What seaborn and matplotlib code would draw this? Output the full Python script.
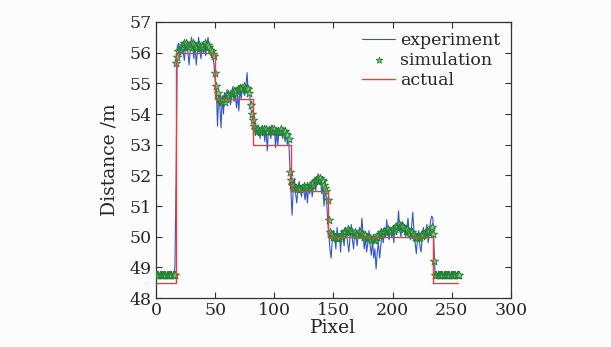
import numpy as np
import seaborn as sns
import matplotlib
matplotlib.use('Agg')
import matplotlib.pyplot as plt

# Pixel index 0..256, values listed segment by segment
exp_a = [48.72, 48.74, 48.71, 48.73, 48.75, 48.72, 48.74, 48.73, 48.71, 48.74, 48.72, 48.75,
         48.73, 48.72, 48.74, 48.73, 49.0]
exp_b = [52.0, 56.2, 56.3, 55.9, 56.1, 56.3, 56.0, 55.75, 56.2, 56.4, 56.0, 55.6, 56.1, 56.5,
         56.2, 55.8, 56.3, 55.6, 56.0, 56.5, 56.1, 55.8, 56.3, 56.0, 56.2, 55.9, 56.3, 56.5,
         56.1, 56.0, 56.2, 55.9, 55.6, 55.1]
exp_c = [54.8, 53.6, 54.7, 54.2, 53.55, 54.6, 54.0, 54.7, 54.4, 54.8, 54.5, 54.7, 54.3, 54.6,
         54.9, 54.4, 54.7, 54.2, 54.6, 54.1, 54.8, 54.5, 54.9, 54.7, 54.6, 54.9, 55.35, 54.6,
         54.8, 54.2, 54.0, 53.7]
exp_d = [53.7, 53.3, 53.6, 53.4, 53.5, 53.2, 53.6, 53.4, 53.5, 53.1, 53.6, 52.8, 53.4, 53.6,
         53.2, 53.5, 53.3, 53.6, 52.9, 53.4, 53.0, 53.5, 53.3, 53.6, 53.2, 53.5, 53.1, 53.4,
         53.0, 53.3, 52.4]
exp_e = [51.5, 50.7, 51.6, 51.9, 51.4, 51.1, 51.6, 51.8, 51.5, 51.3, 51.7, 51.5, 51.2, 51.6,
         51.1, 51.7, 51.4, 51.8, 51.3, 51.6, 51.9, 51.5, 51.8, 52.05, 51.7, 51.9, 51.4, 51.6,
         51.0, 51.5, 51.3, 50.6]
exp_f = [50.1, 49.6, 49.3, 49.9,
         50.2, 50.0, 49.6, 50.3, 49.9, 50.1, 49.5, 50.2, 50.0, 49.7,
         50.3, 50.1, 49.8, 49.5, 50.0, 50.4, 49.9, 49.6, 50.2, 50.0,
         49.7, 50.1, 50.3, 50.0, 50.6, 50.1, 49.6, 50.0, 49.5, 49.8,
         50.2, 49.7, 49.4, 49.9, 49.3, 49.6, 48.95, 49.5, 49.8, 49.3,
         49.7, 50.1, 49.8, 50.2, 50.0, 50.55, 50.1, 49.9, 50.3, 50.0,
         50.2, 49.8, 50.4, 50.1, 50.3, 50.84, 50.2, 50.0, 50.5, 50.2,
         50.4, 50.0, 50.3, 50.6, 50.1, 49.9, 50.3, 50.8, 50.2, 49.8,
         49.45, 49.9, 50.2, 49.7, 49.5, 50.0, 50.3, 49.9, 50.2, 50.4,
         49.8, 50.1, 50.5, 50.67, 50.6]
exp_g = [49.6, 48.7, 48.73, 48.71, 48.74, 48.72, 48.73, 48.75, 48.72, 48.74, 48.71, 48.73,
         48.74, 48.72, 48.73, 48.75, 48.72, 48.74, 48.73, 48.71, 48.74, 48.72]

sim_a = [48.75, 48.75, 48.76, 48.75, 48.74, 48.75, 48.75, 48.76, 48.75, 48.74, 48.75, 48.75,
         48.76, 48.75, 48.74, 48.75, 48.75]
sim_b = [55.65, 55.85, 56.05, 56.1, 56.15, 56.2, 56.25, 56.3, 56.3, 56.25, 56.2, 56.2, 56.25,
         56.3, 56.3, 56.25, 56.2, 56.15, 56.2, 56.25, 56.2, 56.15, 56.2, 56.25, 56.3, 56.25,
         56.2, 56.25, 56.2, 56.1, 56.05, 55.95, 55.9, 55.35]
sim_c = [54.9, 54.7, 54.5, 54.45, 54.4, 54.4, 54.45, 54.4, 54.5, 54.6, 54.65, 54.6, 54.65,
         54.7, 54.7, 54.75, 54.7, 54.75, 54.8, 54.8, 54.85, 54.8, 54.85, 54.9, 54.85, 54.8,
         54.85, 54.8, 54.7, 54.3, 54.0, 53.8]
sim_d = [53.6, 53.5, 53.45, 53.5, 53.45, 53.4, 53.45, 53.5, 53.5, 53.45, 53.5, 53.45, 53.4,
         53.45, 53.5, 53.5, 53.45, 53.5, 53.45, 53.4, 53.45, 53.4, 53.45, 53.5, 53.45, 53.4,
         53.45, 53.35, 53.3, 53.2, 52.1]
sim_e = [51.85, 51.7, 51.65, 51.6, 51.6, 51.55, 51.6, 51.6, 51.55, 51.6, 51.6, 51.65, 51.6,
         51.6, 51.65, 51.6, 51.65, 51.7, 51.7, 51.75, 51.8, 51.85, 51.85, 51.9, 51.85, 51.9,
         51.85, 51.8, 51.7, 51.6, 51.5, 51.2]
sim_f = [50.55, 50.15, 50.1, 50.05,
         50.0, 50.0, 49.95, 49.95, 50.0, 49.95, 50.0, 50.05, 50.1, 50.15,
         50.2, 50.2, 50.25, 50.2, 50.15, 50.2, 50.15, 50.1, 50.15, 50.1,
         50.05, 50.1, 50.15, 50.1, 50.1, 50.05, 50.0, 50.05, 50.0, 49.95,
         50.0, 49.95, 49.9, 49.95, 49.9, 49.9, 49.95, 50.0, 50.05, 50.1,
         50.15, 50.1, 50.15, 50.2, 50.15, 50.2, 50.25, 50.2, 50.15, 50.2,
         50.25, 50.2, 50.25, 50.3, 50.35, 50.4, 50.35, 50.3, 50.35, 50.3,
         50.25, 50.2, 50.25, 50.2, 50.15, 50.1, 50.15, 50.1, 50.05, 50.0,
         49.95, 50.0, 49.95, 50.0, 50.05, 50.1, 50.05, 50.1, 50.15, 50.2,
         50.15, 50.2, 50.25, 50.3, 50.1]
sim_g = [49.2, 48.75, 48.76, 48.75, 48.74, 48.75, 48.75, 48.76, 48.75, 48.74, 48.75, 48.75,
         48.76, 48.75, 48.74, 48.75, 48.75, 48.76, 48.75, 48.74, 48.75, 48.75]

# actual distance: step edges (pixel) and levels (m)
step_x = [0, 17, 50, 82, 114, 145, 234, 255]
step_y = [48.5, 56.0, 54.5, 53.0, 51.5, 50.0, 48.5, 48.5]

experiment = np.array(exp_a + exp_b + exp_c + exp_d + exp_e + exp_f + exp_g)
simulation = np.array(sim_a + sim_b + sim_c + sim_d + sim_e + sim_f + sim_g)
pixel = np.arange(len(experiment))

sns.set_style('ticks')
plt.rcParams['font.family'] = ['DejaVu Serif']
plt.rcParams['font.size'] = 12.5

fig = plt.figure(figsize=(6.11, 3.47), dpi=100, facecolor='#fcfcfc')
ax = fig.add_axes([0.2553, 0.1412, 0.581, 0.7954])
ax.set_facecolor('#fcfcfc')

sns.lineplot(x=pixel, y=experiment, ax=ax, color='#3557c4', lw=0.8, label='experiment', zorder=2)
sns.scatterplot(x=pixel, y=simulation, ax=ax, marker='*', s=38, color='#8cc78c',
                edgecolor='#1f7d33', linewidth=0.6, label='simulation', zorder=3)
sns.lineplot(x=step_x, y=step_y, ax=ax, color='#f03a3a', lw=1.0, drawstyle='steps-post',
             label='actual', zorder=4)

ax.set_xlim(0, 300)
ax.set_ylim(48, 57)
ax.set_xticks(range(0, 301, 50))
ax.set_yticks(range(48, 58))
ax.tick_params(direction='in', top=True, right=True, length=4, width=0.8,
               labelsize=12.5, color='#333333', pad=3)
for s in ax.spines.values():
    s.set_linewidth(0.9)
    s.set_color('#333333')

ax.set_xlabel('Pixel', fontsize=13.5, labelpad=0)
ax.set_ylabel('Distance /m', fontsize=13.5, labelpad=8)

ax.legend(loc='upper right', frameon=False, fontsize=12.5, handlelength=1.9,
          labelspacing=0.15, borderaxespad=0.2, handletextpad=0.3, markerscale=0.8)

fig.savefig('out.png', dpi=100, facecolor=fig.get_facecolor())
